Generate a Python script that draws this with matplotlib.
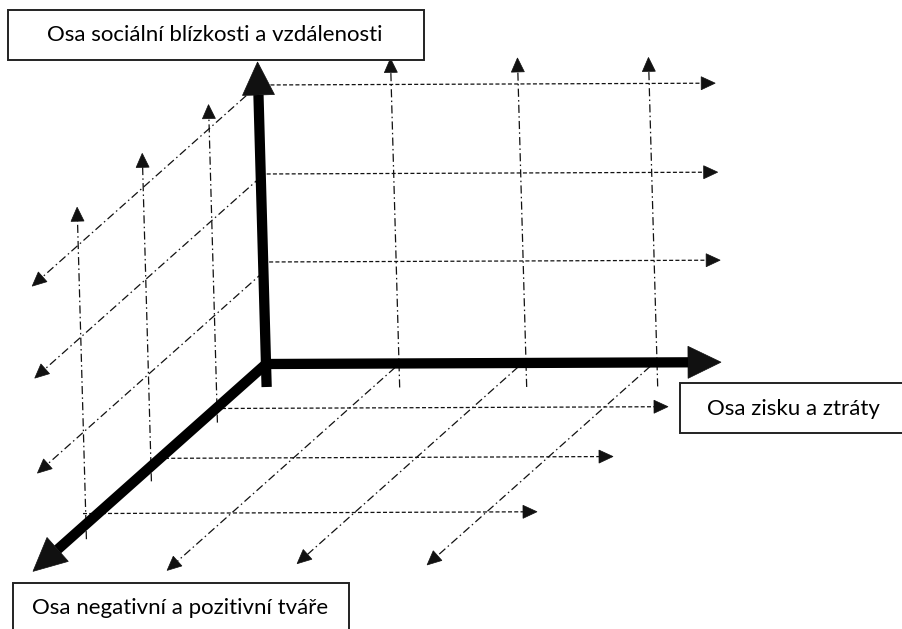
import numpy as np
import matplotlib
matplotlib.use("Agg")
import matplotlib.pyplot as plt
from matplotlib.patches import Polygon, Rectangle

# oblique frame of the diagram (pixel space of the canvas)
ORIGIN = (266, 364)
EU = (1.0, -0.004)     # gain / loss axis (right)
EV = (-0.028, -1.0)    # social distance axis (up)
EW = (-1.0, 0.89)      # negative / positive face axis (down-left)

AXIS_LABELS = ["Osa zisku a ztráty", "Osa sociální blízkosti a vzdálenosti",
               "Osa negativní a pozitivní tváře"]

# grid levels
V_BACK = [102, 190, 279]          # dashed horizontals, back plane
U_BACK = [133, 260, 391]          # dash-dot verticals, back plane
V_LEFT = [92, 187, 279]           # dash-dot diagonals, left plane
W_LEFT = [49, 115, 180]           # dash-dot verticals, left plane
W_FLOOR = [50, 106, 168]          # dashed horizontals, floor
FLOOR_U_START = [6, 5, -15]
FLOOR_U_END = [452, 453, 439]
U_FLOOR = [129, 252, 384]         # dash-dot diagonals, floor
FLOOR_W_END = [228, 221, 223]

INK = "#111111"
DASH = (0, (3.2, 1.8))
DASHDOT = (0, (6.5, 2.6, 1.2, 2.6))


def proj(u, v, w):
    x = ORIGIN[0] + u * EU[0] + v * EV[0] + w * EW[0]
    y = ORIGIN[1] + u * EU[1] + v * EV[1] + w * EW[1]
    return np.array([x, y])


def head(ax, tip, frm, length, width):
    d = (tip - frm) / np.linalg.norm(tip - frm)
    n = np.array([-d[1], d[0]])
    base = tip - d * length
    ax.add_patch(Polygon([tip, base + n * width / 2, base - n * width / 2],
                         closed=True, fc=INK, ec=INK, lw=0.5, zorder=4))
    return base


def thin(ax, p0, p1, style, arrow=True):
    end = head(ax, p1, p0, 14, 13) if arrow else p1
    ax.plot([p0[0], end[0]], [p0[1], end[1]], color=INK, lw=0.9,
            linestyle=style, zorder=2)


def thick(ax, p0, p1):
    base = head(ax, p1, p0, 33, 32)
    ax.plot([p0[0], base[0]], [p0[1], base[1]], color="black", lw=7.4,
            solid_capstyle="butt", zorder=5)


fig = plt.figure(figsize=(9.02, 6.29), dpi=100)
ax = fig.add_axes([0, 0, 1, 1])
ax.set_xlim(0, 902)
ax.set_ylim(629, 0)
ax.axis("off")

# back plane
for v in V_BACK:
    thin(ax, proj(6, v, 0), proj(457, v, 0), DASH)
for u in U_BACK:
    thin(ax, proj(u, -24, 0), proj(u, 305, 0), DASHDOT)

# left plane
for v in V_LEFT:
    thin(ax, proj(0, v, 0), proj(0, v, 226), DASHDOT)
for w, top in zip(W_LEFT, [303, 313, 317]):
    thin(ax, proj(0, -15, w), proj(0, top, w), DASHDOT)

# floor
for w, u0, u1 in zip(W_FLOOR, FLOOR_U_START, FLOOR_U_END):
    thin(ax, proj(u0, 0, w), proj(u1, 0, w), DASH)
for u, w1 in zip(U_FLOOR, FLOOR_W_END):
    thin(ax, proj(u, -4, 0), proj(u, -4, w1), DASHDOT)

# main axes
thick(ax, proj(-5, 0, 0), proj(455, 0, 0))
thick(ax, proj(0, -23, 0), proj(0, 302, 0))
thick(ax, proj(0, 0, 0), proj(0, 0, 233))

# label boxes
boxes = [(680, 383, 230, 50, 793, 409),
         (8, 10, 416, 50, 215, 35),
         (13, 583, 336, 60, 180, 608)]
for text, (bx, by, bw, bh, tx, ty) in zip(AXIS_LABELS, boxes):
    ax.add_patch(Rectangle((bx, by), bw, bh, fc="white", ec="#222222",
                           lw=1.4, zorder=6))
    ax.text(tx, ty, text, ha="center", va="center", fontsize=16,
            family="Lato", color="black", zorder=7)

fig.savefig("out.png", dpi=100)
